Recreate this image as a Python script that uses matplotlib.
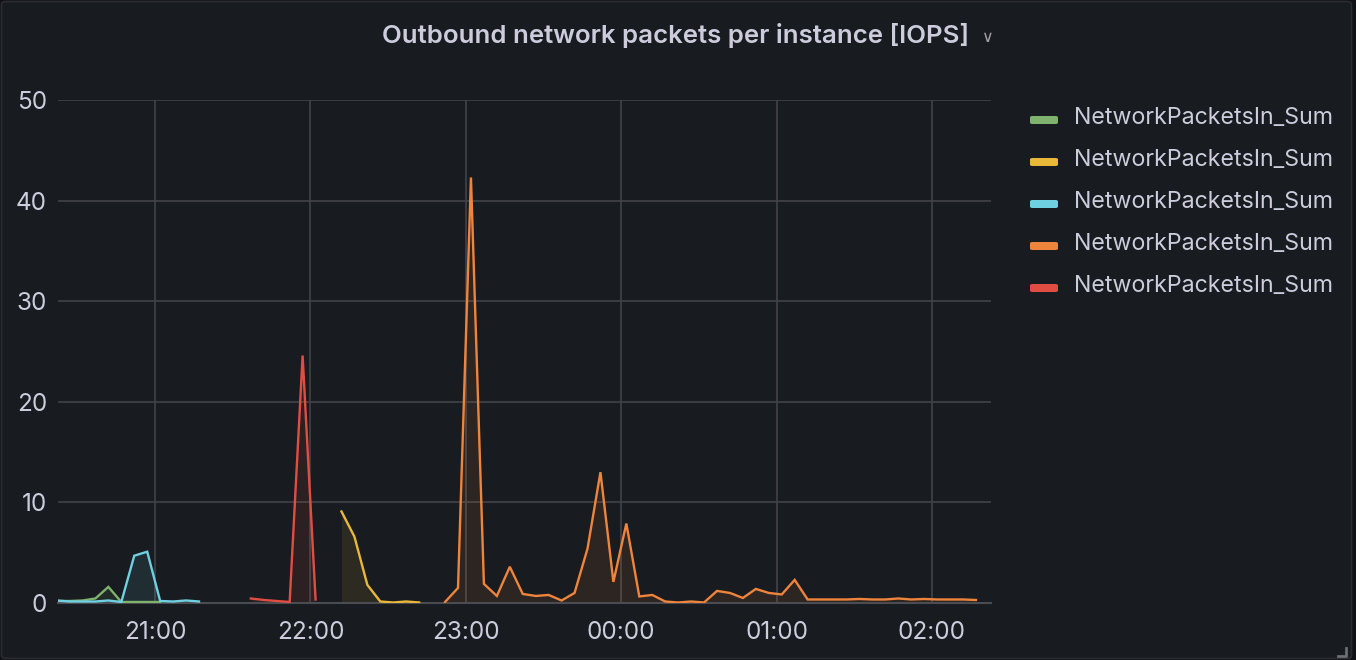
import numpy as np
import matplotlib
matplotlib.use("Agg")
import matplotlib.pyplot as plt
from matplotlib.patches import FancyBboxPatch

# ---------------- data ----------------
# times in minutes after 20:00, 5-minute samples
series_labels = ["NetworkPacketsIn_Sum"] * 5
series_colors = ["#7EB26D", "#EAB839", "#6ED0E0", "#EF843C", "#E24D42"]

green_start = 22  # 20:22
green_vals = [0.2, 0.2, 0.25, 0.45, 1.6, 0.1, 0.1, 0.1, 0.1]

yellow_start = 132  # 22:12
yellow_vals = [9.1, 6.6, 1.8, 0.15, 0.05, 0.15, 0.05]

cyan_start = 22  # 20:22
cyan_vals = [0.25, 0.15, 0.15, 0.15, 0.25, 0.1, 4.7, 5.1, 0.2, 0.15, 0.25, 0.15]

orange_start = 172  # 22:52
orange_vals = [0.1, 1.5, 42.3, 1.9, 0.7, 3.6, 0.9, 0.7, 0.8, 0.25, 1.0, 5.4,
               13.0, 2.1, 7.9, 0.65, 0.8, 0.15, 0.05, 0.15, 0.05, 1.2, 1.0, 0.5,
               1.4, 1.0, 0.85, 2.3, 0.35, 0.35, 0.35, 0.35, 0.4, 0.35, 0.35,
               0.45, 0.35, 0.4, 0.35, 0.35, 0.35, 0.3]

red_start = 97  # 21:37
red_vals = [0.45, 0.3, 0.2, 0.1, 24.6, 0.35]

starts = [green_start, yellow_start, cyan_start, orange_start, red_start]
values = [green_vals, yellow_vals, cyan_vals, orange_vals, red_vals]

x_tick_pos = [60, 120, 180, 240, 300, 360]
x_tick_labels = ["21:00", "22:00", "23:00", "00:00", "01:00", "02:00"]
y_ticks = [0, 10, 20, 30, 40, 50]

title = "Outbound network packets per instance [IOPS]"

# ---------------- style ----------------
BG = "#181b1f"
TEXT = "#ccccdc"
GRID = "#414349"
FONT = ["Inter", "DejaVu Sans"]

W, H = 1356, 660
fig = plt.figure(figsize=(W / 100, H / 100), dpi=100, facecolor="#111217")

# panel
panel = FancyBboxPatch((1.5 / W, 1.5 / H), (W - 6) / W, (H - 3) / H,
                       boxstyle="round,pad=0,rounding_size=0.004",
                       transform=fig.transFigure, facecolor=BG,
                       edgecolor="#2a2c31", linewidth=1.2, zorder=-5)
fig.patches.append(panel)

ax = fig.add_axes([58 / W, 1 - 603 / H, (991 - 58) / W, (603 - 100) / H])
ax.set_zorder(2)
ax.patch.set_alpha(0)

for st, vals, col in zip(starts, values, series_colors):
    t = st + 5 * np.arange(len(vals))
    ax.fill_between(t, 0, vals, color=col, alpha=0.10, linewidth=0, zorder=2)
    ax.plot(t, vals, color=col, linewidth=1.7, zorder=3, solid_joinstyle="miter")

ax.set_xlim(22.55, 382.8)
ax.set_ylim(0, 50)
ax.set_xticks(x_tick_pos)
ax.set_xticklabels(x_tick_labels)
ax.set_yticks(y_ticks)

ax.grid(True, color=GRID, linewidth=1.2, zorder=1)
ax.set_axisbelow(True)
for s in ["top", "right", "left"]:
    ax.spines[s].set_visible(False)
ax.spines["bottom"].set_color("#4a4c52")
ax.spines["bottom"].set_linewidth(1.5)
ax.tick_params(axis="both", length=0, colors=TEXT, labelsize=17.5)
ax.tick_params(axis="x", pad=13)
ax.tick_params(axis="y", pad=8)
for lab in ax.get_xticklabels() + ax.get_yticklabels():
    lab.set_family(FONT)
    lab.set_color(TEXT)

# title
fig.text(676 / W, 1 - 35 / H, title, ha="center", va="center",
         color=TEXT, fontsize=18.6, fontweight="semibold", family=FONT)
fig.text(988 / W, 1 - 37 / H, "\u2228", ha="center", va="center",
         color="#9fa0a8", fontsize=11.5, family=["DejaVu Sans"])

# legend
for i, (lab, col) in enumerate(zip(series_labels, series_colors)):
    yc = 1 - (116 + 42 * i) / H
    fig.patches.append(FancyBboxPatch((1030 / W, yc - 8 / H), 28 / W, 8 / H,
                                      boxstyle="round,pad=0,rounding_size=0.002",
                                      transform=fig.transFigure, facecolor=col,
                                      edgecolor="none"))
    fig.text(1074 / W, yc - 2 / H, lab, ha="left", va="center",
             color=TEXT, fontsize=16.7, family=FONT)

# resize handle
fig.add_artist(plt.Line2D([1338 / W, 1346 / W, 1346 / W],
                          [1 - 656 / H, 1 - 656 / H, 1 - 648 / H],
                          transform=fig.transFigure, color="#6b6d72",
                          linewidth=2))

fig.savefig("out.png", dpi=100, facecolor=fig.get_facecolor())
